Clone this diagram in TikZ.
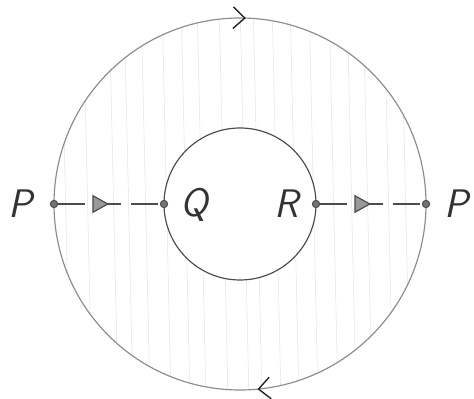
\documentclass[tikz,border=0pt]{standalone}
\usetikzlibrary{arrows.meta, decorations.markings}

\begin{document}
\begin{tikzpicture}[
    x=0.03cm, y=0.03cm,
    pt node/.style={circle, fill=black!55, draw=black!70, inner sep=0pt, minimum size=2.2mm},
    lbl node/.style={font=\fontsize{34}{40}\selectfont\sffamily\itshape, text=black!80},
    hatch line/.style={black!12, line width=0.4pt},
    flow/.style={black!70, line width=1pt, dash pattern=on 8mm off 3mm,
        postaction={decorate},
        decoration={markings, mark=at position 0.5 with {\arrow{Triangle[length=5mm, width=5.5mm, fill=black!40]}}}},
    rim/.style={black!45, line width=1pt,
        postaction={decorate},
        decoration={markings,
            mark=at position 0.245 with {\arrowreversed[black!85, line width=1.2pt]{Straight Barb[length=3.5mm, width=6.5mm]}},
            mark=at position 0.765 with {\arrowreversed[black!85, line width=1.2pt]{Straight Barb[length=3.5mm, width=6.5mm]}}}},
    thick
]
    \useasboundingbox (0,0) rectangle (474,399);

    % Shaded ring
    \begin{scope}
        \clip (240,195) circle [radius=186];
        \foreach \x in {70,92,118,133,150,171,190,206,228,249,262,281,299,318,338,356,372,393,410}
            \draw[hatch line] (\x,0) -- (\x-9,399);
    \end{scope}
    \fill[white] (240,195) circle [radius=76];

    % Circles
    \draw[rim] (240,195) circle [radius=186];
    \draw[black!70, line width=1pt] (240,195) circle [radius=76];

    % Points on the circles
    \node[pt node] (pl) at (54,195) {};
    \node[pt node] (q) at (164,195) {};
    \node[pt node] (r) at (316,195) {};
    \node[pt node] (pr) at (426,195) {};

    % Labels
    \node[lbl node] (lpl) at (20,195) {P};
    \node[lbl node] (lq) at (194,194) {Q};
    \node[lbl node] (lr) at (287,195) {R};
    \node[lbl node] (lpr) at (456,195) {P};

    % Cuts
    \draw[flow] (pl) -- (q);
    \draw[flow] (r) -- (pr);
\end{tikzpicture}
\end{document}
